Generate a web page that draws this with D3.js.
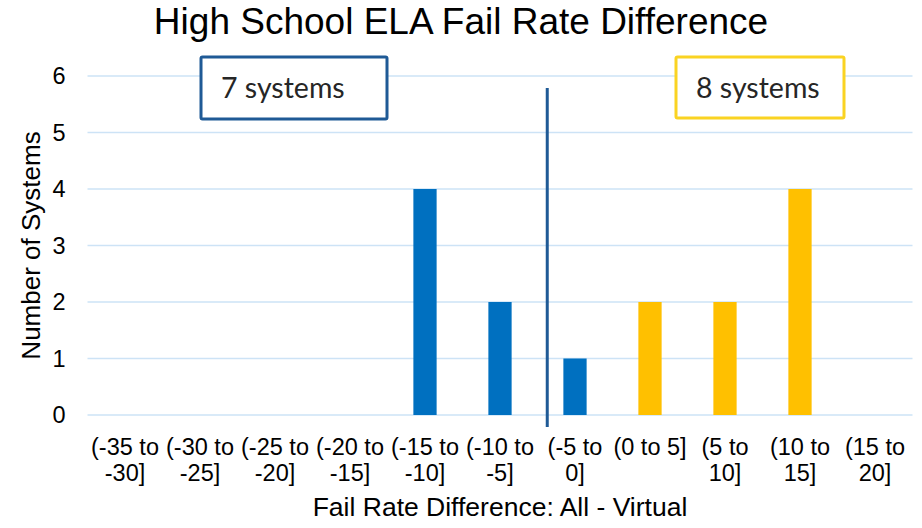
<!DOCTYPE html>
<html>
<head>
<meta charset="utf-8">
<script src="https://cdn.jsdelivr.net/npm/d3@7"></script>
<style>
  body { margin: 0; background: #fff; }
  svg text { font-family: "Liberation Sans", Arial, sans-serif; fill: #000; }
</style>
</head>
<body>
<svg class="chart" width="922" height="528"></svg>
<script>
// data
const categories = ['(-35 to -30]', '(-30 to -25]', '(-25 to -20]', '(-20 to -15]', '(-15 to -10]',
  '(-10 to -5]', '(-5 to 0]', '(0 to 5]', '(5 to 10]', '(10 to 15]', '(15 to 20]']
const labelLines = [['(-35 to', '-30]'], ['(-30 to', '-25]'], ['(-25 to', '-20]'], ['(-20 to', '-15]'],
  ['(-15 to', '-10]'], ['(-10 to', '-5]'], ['(-5 to', '0]'], ['(0 to 5]'], ['(5 to', '10]'],
  ['(10 to', '15]'], ['(15 to', '20]']]
const counts = [0, 0, 0, 0, 4, 2, 1, 2, 2, 4, 0]
const yTicks = [0, 1, 2, 3, 4, 5, 6]
const leftNote = '7 systems'
const rightNote = '8 systems'

const svg = d3.select('.chart')
const margin = { top: 76, right: 9.5, bottom: 113, left: 87.5 }
const width = +svg.attr('width')
const height = +svg.attr('height')

const xscale = d3.scaleBand()
  .domain(categories)
  .range([margin.left, width - margin.right])
  .paddingInner(0.69)
  .paddingOuter(0.345)
const yscale = d3.scaleLinear()
  .domain([0, 6])
  .range([height - margin.bottom, margin.top])

const blue = '#0070c0'
const gold = '#ffc000'
const dark = '#1f5a96'

// gridlines
svg.append('g').selectAll('line').data(yTicks)
  .enter().append('line')
  .attr('x1', margin.left)
  .attr('x2', width - margin.right)
  .attr('y1', d => yscale(d))
  .attr('y2', d => yscale(d))
  .attr('stroke', '#cde3f6')
  .attr('stroke-width', 1.5)

// y axis labels
const yAxis = d3.axisLeft(yscale).tickValues(yTicks).tickFormat(d3.format('d')).tickSize(0).tickPadding(22)
const gy = svg.append('g').attr('transform', `translate(${margin.left},0)`).call(yAxis)
gy.select('.domain').remove()
gy.selectAll('text').style('font-size', '23.5px').style('font-family', '"Liberation Sans", Arial, sans-serif').attr('fill', '#000')

// bars
svg.append('g').selectAll('rect').data(categories)
  .enter().append('rect')
  .attr('x', d => xscale(d))
  .attr('width', xscale.bandwidth())
  .attr('y', (d, i) => yscale(counts[i]))
  .attr('height', (d, i) => yscale(0) - yscale(counts[i]))
  .attr('fill', (d, i) => i <= 6 ? blue : gold)

// x labels
const half = xscale.bandwidth() / 2
const xl = svg.append('g').selectAll('text').data(categories)
  .enter().append('text')
  .attr('text-anchor', 'middle')
  .style('font-size', '23.5px')
xl.each(function (d, i) {
  labelLines[i].forEach((ln, j) => {
    d3.select(this).append('tspan')
      .attr('x', xscale(d) + half)
      .attr('y', 455 + j * 25.5)
      .text(ln)
  })
})

// divider between negative and positive
const divX = xscale(categories[6]) + half - xscale.step() * 0.37
svg.append('line')
  .attr('x1', divX).attr('x2', divX)
  .attr('y1', 88).attr('y2', 427)
  .attr('stroke', dark)
  .attr('stroke-width', 3)

// note boxes
const notes = [
  { text: leftNote, x: 201, y: 57, w: 186, h: 62, color: dark },
  { text: rightNote, x: 676, y: 57, w: 168, h: 61, color: '#fad322' }
]
notes.forEach(n => {
  svg.append('rect')
    .attr('x', n.x).attr('y', n.y).attr('width', n.w).attr('height', n.h)
    .attr('fill', '#fff').attr('stroke', n.color).attr('stroke-width', 3).attr('rx', 1.5)
  svg.append('text')
    .attr('x', n.x + 20).attr('y', 98)
    .style('font-family', 'Lato, "Open Sans", sans-serif')
    .style('font-size', '28.5px')
    .style('fill', '#262626')
    .text(n.text)
})

// titles
svg.append('text')
  .attr('x', width / 2).attr('y', 34)
  .attr('text-anchor', 'middle')
  .style('font-size', '37px')
  .text('High School ELA Fail Rate Difference')

svg.append('text')
  .attr('x', (margin.left + width - margin.right) / 2).attr('y', 516)
  .attr('text-anchor', 'middle')
  .style('font-size', '26.5px')
  .text('Fail Rate Difference: All - Virtual')

svg.append('text')
  .attr('transform', `translate(40,${(yscale(0) + yscale(6)) / 2}) rotate(-90)`)
  .attr('text-anchor', 'middle')
  .style('font-size', '26px')
  .text('Number of Systems')
</script>
</body>
</html>
